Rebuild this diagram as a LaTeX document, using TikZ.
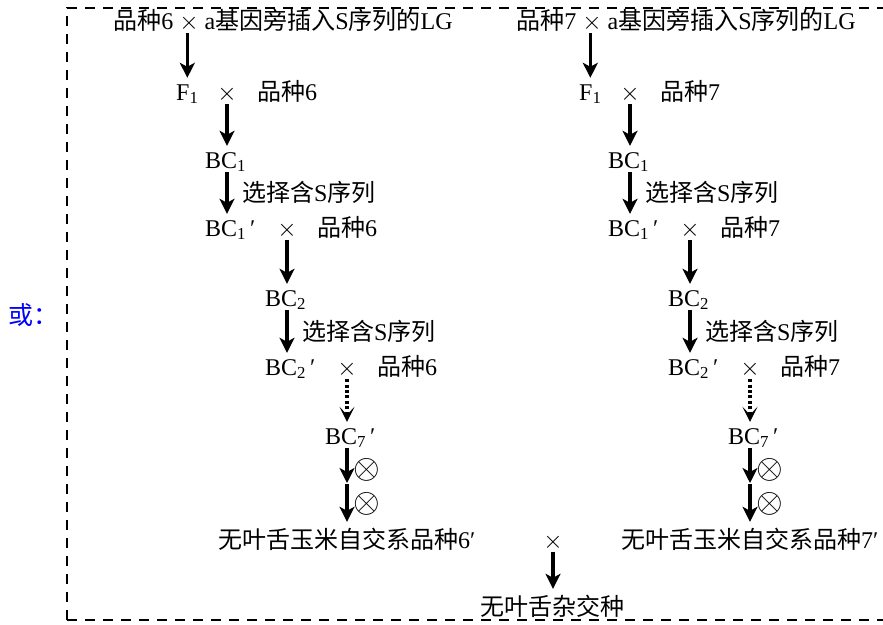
\documentclass[tikz,border=0pt]{standalone}
\usepackage{fontspec}
\usepackage{graphicx}
\setmainfont{Liberation Serif}
\newfontfamily\cjk{Noto Sans CJK SC}
\usetikzlibrary{arrows.meta}
\newcommand\C[1]{{\cjk #1}}
\newcommand\X{$\times$}
\newcommand\OT{\scalebox{1.38}{$\otimes$}}
\newcommand\branchcol[1]{%
  \node[txt,anchor=base] (top) at (283,29) {\C{品种}#1 \X{} a\C{基因旁插入}S\C{序列的}LG};
  \node[txt,anchor=base west] (F1) at (176,100) {F\textsubscript{1}};
  \node[txt,anchor=base] (x1) at (227,100) {\X};
  \node[txt,anchor=base] (p1) at (287,100) {\C{品种}#1};
  \node[txt,anchor=base west] (BC1) at (205,168) {BC\textsubscript{1}};
  \node[txt,anchor=base west] (s1) at (242,201) {\C{选择含}S\C{序列}};
  \node[txt,anchor=base west] (BC1p) at (205,236) {BC\textsubscript{1}\,′};
  \node[txt,anchor=base] (x2) at (287,236) {\X};
  \node[txt,anchor=base] (p2) at (347,236) {\C{品种}#1};
  \node[txt,anchor=base west] (BC2) at (265,306) {BC\textsubscript{2}};
  \node[txt,anchor=base west] (s2) at (302,340) {\C{选择含}S\C{序列}};
  \node[txt,anchor=base west] (BC2p) at (265,375) {BC\textsubscript{2}\,′};
  \node[txt,anchor=base] (x3) at (347,375) {\X};
  \node[txt,anchor=base] (p3) at (407,375) {\C{品种}#1};
  \node[txt,anchor=base west] (BC7) at (325,444) {BC\textsubscript{7}\,′};
  \coordinate (mid) at (347,484);
  \node[sym] (o1) at (367,470) {\OT};
  \node[sym] (o2) at (367,504) {\OT};
  \node[txt,anchor=base west] (fin) at (218,548) {\C{无叶舌玉米自交系品种}#1′};
  \draw[arr] (F1.north |- top.south) -- (F1.north);
  \draw[arr] (x1.south) -- (x1.south |- BC1.north);
  \draw[arr] (x1.south |- BC1.south) -- (x1.south |- BC1p.north);
  \draw[arr] (x2.south) -- (x2.south |- BC2.north);
  \draw[arr] (x2.south |- BC2.south) -- (x2.south |- BC2p.north);
  \draw[dotarr] (x3.south) -- (x3.south |- BC7.north);
  \draw[arr] (x3.south |- BC7.south) -- (mid);
  \draw[arr,shorten >=5pt] (mid) -- (x3.south |- fin.north);
}
\begin{document}
\begin{tikzpicture}[x=1pt,y=-1pt,
  txt/.style={inner sep=0pt,text height=21pt,text depth=4pt,font=\fontsize{24}{28}\selectfont},
  sym/.style={inner sep=0pt,font=\fontsize{24}{28}\selectfont},
  arr/.style={line width=3.2pt,-{Stealth[length=15pt,width=15pt,inset=4pt]},shorten >=1pt},
  dotarr/.style={line width=3.2pt,dash pattern=on 3pt off 2.4pt,-{Stealth[length=15pt,width=15pt,inset=8pt]},shorten >=1pt},
  boxline/.style={line width=2.8pt,dash pattern=on 10pt off 8pt}]
\useasboundingbox (0,0) rectangle (883,624);
\draw[boxline] (67,620) -- (67,8) -- (895,8);
\draw[boxline] (67,620) -- (895,620);
\node[txt,anchor=base west,text=blue,font=\fontsize{25}{28}\selectfont] (or) at (8,324) {\C{或：}};
\begin{scope}[name prefix=L-]
  \branchcol{6}
\end{scope}
\begin{scope}[xshift=403pt,name prefix=R-]
  \branchcol{7}
\end{scope}
\node[txt,anchor=base] (bx) at (553,548) {\X};
\node[txt,anchor=base] (hyb) at (552,615) {\C{无叶舌杂交种}};
\draw[arr,shorten >=5pt] (bx.south) -- (bx.south |- hyb.north);
\end{tikzpicture}
\end{document}
